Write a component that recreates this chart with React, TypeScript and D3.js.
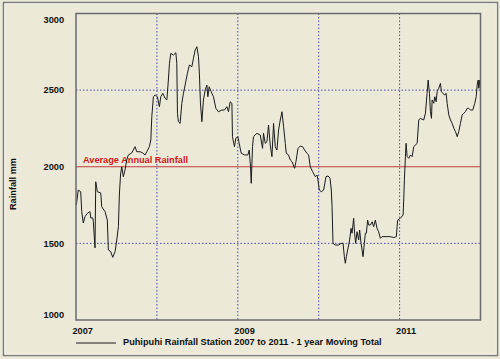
import React from "react";
import * as d3 from "d3";

// Decimal-year positions and 1-year moving rainfall totals (mm)
const years: number[] = [
  2007.004, 2007.028, 2007.058, 2007.071, 2007.09, 2007.111, 2007.14, 2007.173, 2007.182, 2007.207,
  2007.214, 2007.235, 2007.244, 2007.264, 2007.306, 2007.318, 2007.359, 2007.387, 2007.4, 2007.429,
  2007.454, 2007.483, 2007.504, 2007.524, 2007.536, 2007.551, 2007.566, 2007.585, 2007.606, 2007.627,
  2007.647, 2007.689, 2007.73, 2007.751, 2007.792, 2007.825, 2007.854, 2007.875, 2007.907, 2007.925,
  2007.937, 2007.957, 2007.978, 2008.006, 2008.031, 2008.048, 2008.073, 2008.101, 2008.123, 2008.142,
  2008.155, 2008.172, 2008.204, 2008.234, 2008.246, 2008.254, 2008.266, 2008.287, 2008.308, 2008.328,
  2008.349, 2008.377, 2008.402, 2008.432, 2008.452, 2008.473, 2008.494, 2008.514, 2008.526, 2008.538,
  2008.556, 2008.575, 2008.597, 2008.618, 2008.63, 2008.646, 2008.671, 2008.699, 2008.729, 2008.761,
  2008.803, 2008.835, 2008.865, 2008.885, 2008.906, 2008.927, 2008.934, 2008.959, 2008.976, 2009.001,
  2009.017, 2009.042, 2009.083, 2009.125, 2009.141, 2009.157, 2009.166, 2009.182, 2009.194, 2009.236,
  2009.277, 2009.306, 2009.318, 2009.339, 2009.36, 2009.38, 2009.401, 2009.422, 2009.442, 2009.463,
  2009.484, 2009.504, 2009.525, 2009.546, 2009.566, 2009.587, 2009.599, 2009.627, 2009.649, 2009.67,
  2009.702, 2009.719, 2009.744, 2009.772, 2009.801, 2009.826, 2009.855, 2009.875, 2009.896, 2009.925,
  2009.958, 2009.979, 2009.991, 2010.007, 2010.032, 2010.061, 2010.09, 2010.115, 2010.14, 2010.156,
  2010.165, 2010.177, 2010.206, 2010.246, 2010.276, 2010.301, 2010.317, 2010.329, 2010.342, 2010.358,
  2010.382, 2010.4, 2010.412, 2010.432, 2010.444, 2010.457, 2010.474, 2010.494, 2010.506, 2010.524,
  2010.536, 2010.548, 2010.564, 2010.577, 2010.589, 2010.605, 2010.618, 2010.639, 2010.66, 2010.679,
  2010.7, 2010.721, 2010.741, 2010.762, 2010.783, 2010.845, 2010.886, 2010.927, 2010.96, 2010.969,
  2010.976, 2011.01, 2011.043, 2011.051, 2011.059, 2011.072, 2011.08, 2011.093, 2011.113, 2011.134,
  2011.155, 2011.175, 2011.217, 2011.237, 2011.257, 2011.298, 2011.319, 2011.34, 2011.353, 2011.369,
  2011.381, 2011.394, 2011.402, 2011.422, 2011.435, 2011.452, 2011.464, 2011.484, 2011.505, 2011.517,
  2011.533, 2011.558, 2011.575, 2011.588, 2011.608, 2011.629, 2011.65, 2011.67, 2011.691, 2011.712,
  2011.731, 2011.752, 2011.773, 2011.793, 2011.814, 2011.835, 2011.855, 2011.876, 2011.904, 2011.929,
  2011.947, 2011.959, 2011.971, 2011.979, 2011.991, 2012.0,
];

const totals: number[] = [
  1750, 1848, 1837, 1707, 1633, 1674, 1696, 1707, 1666, 1666,
  1641, 1470, 1902, 1837, 1829, 1739, 1707, 1652, 1457, 1446,
  1409, 1446, 1522, 1609, 1816, 1953, 2000, 1935, 1979, 2044,
  2077, 2090, 2131, 2098, 2098, 2090, 2077, 2098, 2131, 2175,
  2327, 2457, 2468, 2457, 2392, 2457, 2479, 2447, 2436, 2566,
  2675, 2740, 2729, 2744, 2675, 2349, 2294, 2283, 2414, 2479,
  2533, 2610, 2664, 2653, 2708, 2762, 2783, 2718, 2599, 2416,
  2294, 2436, 2501, 2533, 2457, 2522, 2490, 2457, 2381, 2359,
  2370, 2370, 2392, 2359, 2424, 2414, 2196, 2131, 2186, 2196,
  2153, 2088, 2077, 2077, 2109, 2000, 1892, 2131, 2196, 2218,
  2207, 2120, 2218, 2153, 2163, 2272, 2142, 2066, 2283, 2131,
  2109, 2240, 2305, 2359, 2261, 2153, 2088, 2077, 2044, 2033,
  1990, 2033, 2120, 2135, 2131, 2109, 2088, 2077, 2000, 1968,
  1935, 1946, 1914, 1848, 1837, 1848, 1935, 1940, 1925, 1848,
  1739, 1500, 1489, 1489, 1500, 1500, 1413, 1370, 1413, 1457,
  1522, 1598, 1566, 1664, 1566, 1500, 1576, 1522, 1587, 1500,
  1457, 1413, 1500, 1566, 1566, 1652, 1620, 1620, 1641, 1609,
  1652, 1598, 1576, 1533, 1544, 1544, 1544, 1538, 1544, 1609,
  1652, 1664, 1685, 1783, 1914, 2066, 2153, 2066, 2055, 2077,
  2066, 2131, 2153, 2305, 2316, 2305, 2349, 2479, 2566, 2479,
  2359, 2316, 2436, 2414, 2457, 2424, 2490, 2512, 2544, 2490,
  2479, 2468, 2479, 2414, 2338, 2305, 2283, 2251, 2229, 2196,
  2229, 2283, 2338, 2349, 2359, 2381, 2381, 2370, 2370, 2414,
  2457, 2533, 2566, 2512, 2566, 2501,
];

const yTicks: number[] = [1000, 1500, 2000, 2500, 3000];
const xGridYears: number[] = [2008, 2009, 2010, 2011];
const xLabelYears: number[] = [2007, 2009, 2011];
const averageAnnual = 2000;
const averageLabel = "Average Annual Rainfall";
const yAxisTitle = "Rainfall mm";
const legendLabel = "Puhipuhi Rainfall Station 2007 to 2011 - 1 year Moving Total";

const W = 500;
const H = 359;
const plot = { left: 76, right: 480.5, top: 13.5, bottom: 320 };
const BG = "#ECE9D8";
const FONT = "'Liberation Sans', Arial, sans-serif";

export default function App() {
  const x = d3.scaleLinear().domain([2007, 2012]).range([plot.left, plot.right]);
  const y = d3.scaleLinear().domain([1000, 3000]).range([plot.bottom, plot.top]);

  const pts = years.map((yr, i) => [yr, totals[i]] as [number, number]);
  const line = d3
    .line<[number, number]>()
    .x((d) => x(d[0]))
    .y((d) => y(d[1]))
    .curve(d3.curveLinear);

  const labelY = (v: number) => {
    const p = y(v);
    return Math.min(Math.max(p, plot.top + 6), plot.bottom - 5);
  };

  return (
    <div style={{ position: "fixed", left: 0, top: 0 }}>
      <svg width={W} height={H} style={{ display: "block" }} fontFamily={FONT}>
        <rect x={0} y={0} width={W} height={H} fill={BG} />
        {/* outer frame */}
        <rect x={3.5} y={2.5} width={494} height={353} fill="none" stroke="#7a7a7a" strokeWidth={1.5} />
        <rect x={4.75} y={3.75} width={491.5} height={350.5} fill="none" stroke="#ffffff" strokeWidth={0.8} opacity={0.7} />

        {/* grid */}
        {xGridYears.map((g) => (
          <line key={"gx" + g} x1={x(g)} x2={x(g)} y1={plot.top} y2={plot.bottom}
            stroke="#4a4aa8" strokeWidth={1} strokeDasharray="1.5,2" />
        ))}
        {yTicks.filter((t) => t > 1000 && t < 3000 && t !== averageAnnual).map((t) => (
          <line key={"gy" + t} x1={plot.left} x2={plot.right} y1={y(t)} y2={y(t)}
            stroke="#4a4aa8" strokeWidth={1} strokeDasharray="1.5,2" />
        ))}

        {/* average line */}
        <line x1={plot.left} x2={plot.right} y1={y(averageAnnual)} y2={y(averageAnnual)}
          stroke="#c03a3a" strokeWidth={1} />
        <text x={x(2007) + 7} y={y(averageAnnual) - 4} fill="#d01818" fontSize={9.2} fontWeight="bold">
          {averageLabel}
        </text>

        {/* data line */}
        <path d={line(pts) || ""} fill="none" stroke="#1a1a1a" strokeWidth={1} strokeLinejoin="round" />

        {/* plot border */}
        <rect x={plot.left} y={plot.top} width={plot.right - plot.left} height={plot.bottom - plot.top}
          fill="none" stroke="#6a6a6a" strokeWidth={1.5} />

        {/* y tick labels */}
        {yTicks.map((t) => (
          <text key={"yl" + t} x={64} y={labelY(t)} dy="0.35em" textAnchor="end" fontSize={9.2}
            fontWeight="bold" fill="#111">
            {t}
          </text>
        ))}

        {/* x tick labels */}
        {xLabelYears.map((yr) => (
          <text key={"xl" + yr} x={x(yr) - 3.5} y={330.5} dy="0.35em" textAnchor="start" fontSize={9.2}
            fontWeight="bold" fill="#111">
            {yr}
          </text>
        ))}

        {/* y axis title */}
        <text transform={`translate(12.5,184) rotate(-90)`} textAnchor="middle" dy="0.35em" fontSize={9.2}
          fontWeight="bold" fill="#111">
          {yAxisTitle}
        </text>

        {/* legend */}
        <line x1={76} x2={116} y1={343} y2={343} stroke="#1a1a1a" strokeWidth={1} />
        <text x={123} y={342} dy="0.35em" fontSize={9.2} fontWeight="bold" fill="#111">
          {legendLabel}
        </text>
      </svg>
    </div>
  );
}
